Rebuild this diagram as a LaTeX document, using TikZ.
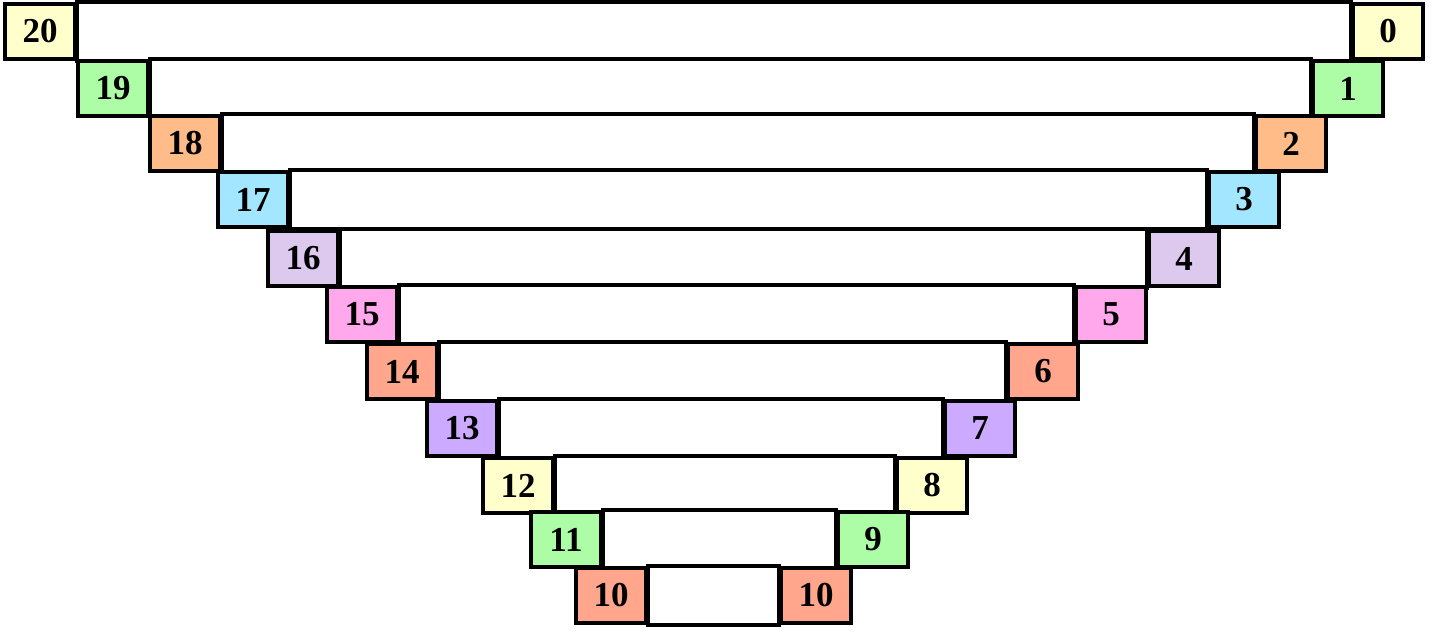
\documentclass[tikz,border=0pt]{standalone}
\usepackage{fontspec}
\setmainfont{Liberation Serif}
\usetikzlibrary{backgrounds}
\definecolor{cyel}{HTML}{FFFFCC}
\definecolor{cgrn}{HTML}{ADFCA6}
\definecolor{cpch}{HTML}{FFBB88}
\definecolor{cblu}{HTML}{A3E6FF}
\definecolor{clil}{HTML}{DDC8EE}
\definecolor{cpnk}{HTML}{FFA8EC}
\definecolor{csal}{HTML}{FFA68C}
\definecolor{cpur}{HTML}{CCAAFF}
\tikzset{
  numbox/.style={draw=black, line width=1.8pt, minimum width=35pt, minimum height=27.5pt,
     inner sep=0pt, font=\fontsize{17.5}{17.5}\selectfont\bfseries},
  bar/.style={draw=black, line width=1.8pt, fill=white}
}
\begin{document}
\begin{tikzpicture}[x=0.5pt,y=-0.5pt]
\useasboundingbox (0,0) rectangle (1443,631);
\foreach \i/\ln/\rn/\lx/\rx/\ty/\c in {
  0/20/0/4/1352/3/cyel,
  1/19/1/77/1312/60/cgrn,
  2/18/2/149/1255/115/cpch,
  3/17/3/217/1208/171/cblu,
  4/16/4/267/1148/230/clil,
  5/15/5/326/1075/286/cpnk,
  6/14/6/366/1007/343/csal,
  7/13/7/426/944/400/cpur,
  8/12/8/482/896/457/cyel,
  9/11/9/530/837/511/cgrn,
  10/10/10/575/780/567/csal}
{
  \node[numbox, fill=\c] (L\i) at (\lx+36,\ty+28.5) {\ln};
  \node[numbox, fill=\c] (R\i) at (\rx+36,\ty+28.5) {\rn};
  \begin{pgfonlayer}{background}
    \draw[bar] (L\i.north east) rectangle (R\i.south west);
  \end{pgfonlayer}
}
\end{tikzpicture}
\end{document}
